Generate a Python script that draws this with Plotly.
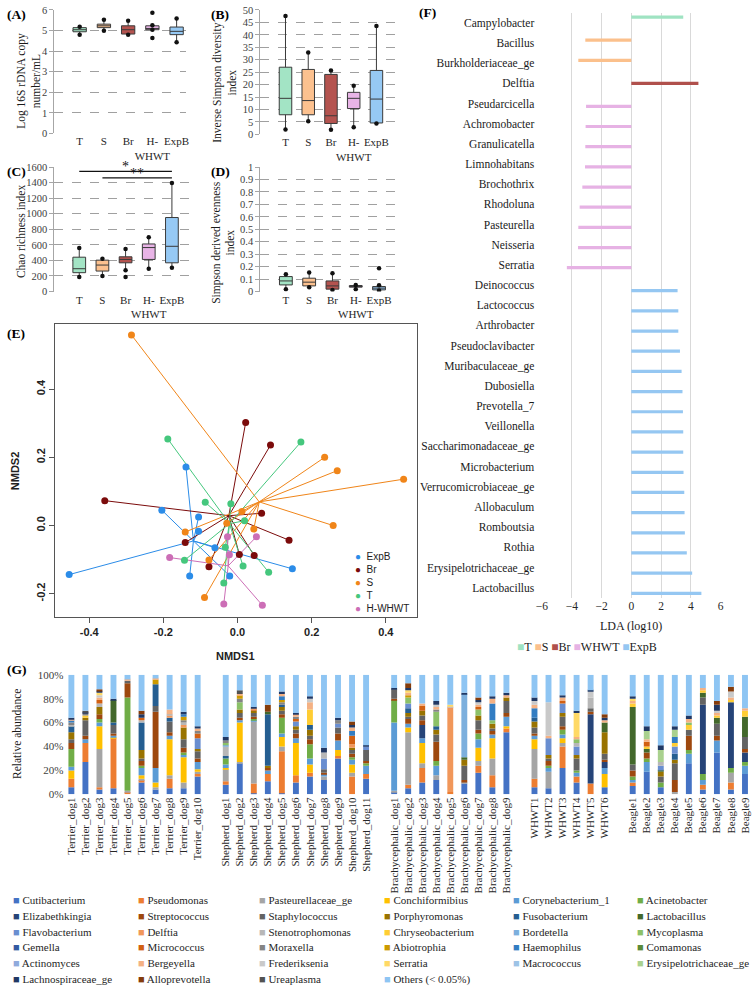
import numpy as np
import plotly.graph_objects as go

W, H = 755, 992
SERIF = "Liberation Serif"
SANS = "Liberation Sans"


def fx(px):
    return px / W


def fy(py):
    return 1 - py / H


# ---------------- Panels A-D : box plots ----------------
box_groups = ["T", "S", "Br", "H-WHWT", "ExpB"]
box_ticktext = ["T", "S", "Br", "H-<br>WHWT", "ExpB"]
group_fill = ["#A3E4C5", "#FCC18F", "#B4534F", "#E8B4E6", "#96C9F4"]

a_q1 = [4.94, 5.14, 4.83, 5.04, 4.80]
a_median = [5.04, 5.23, 5.04, 5.10, 4.96]
a_q3 = [5.14, 5.31, 5.23, 5.23, 5.17]
a_low = [4.80, 4.99, 4.80, 5.04, 4.43]
a_high = [5.18, 5.52, 5.47, 5.26, 5.58]
a_outlier_group = ["H-WHWT", "H-WHWT"]
a_outlier_value = [5.87, 4.64]

b_q1 = [7.9, 7.9, 4.4, 10.4, 4.6]
b_median = [14.5, 13.6, 7.5, 14.5, 14.2]
b_q3 = [27.0, 26.1, 24.1, 16.9, 25.7]
b_low = [2.0, 5.3, 1.9, 2.9, 4.4]
b_high = [47.6, 32.9, 25.7, 19.6, 43.6]
b_outlier_group = []
b_outlier_value = []

c_q1 = [242, 263, 369, 412, 369]
c_median = [293, 340, 412, 565, 581]
c_q3 = [441, 403, 446, 611, 951]
c_low = [187, 199, 272, 293, 306]
c_high = [560, 420, 547, 696, 1396]
c_outlier_group = ["Br"]
c_outlier_value = [187]
c_sig_from = ["T", "S"]
c_sig_to = ["ExpB", "ExpB"]
c_sig_label = ["*", "**"]
c_sig_height = [1545, 1460]

d_q1 = [0.053, 0.045, 0.019, 0.035, 0.013]
d_median = [0.085, 0.075, 0.045, 0.040, 0.027]
d_q3 = [0.120, 0.107, 0.085, 0.048, 0.040]
d_low = [0.019, 0.035, 0.013, 0.019, 0.008]
d_high = [0.139, 0.152, 0.147, 0.053, 0.050]
d_outlier_group = ["ExpB"]
d_outlier_value = [0.187]

# ---------------- Panel E : NMDS ----------------
e_groups = ["ExpB", "Br", "S", "T", "H-WHWT"]
e_colors = ["#2B8CE8", "#7B0B0B", "#F08519", "#45C77D", "#CC6EB6"]
e_expb_x = [-0.139, -0.204, -0.105, -0.105, -0.061, -0.454, -0.129, -0.021, 0.148]
e_expb_y = [0.172, 0.045, 0.025, -0.017, -0.065, -0.144, -0.148, -0.148, -0.127]
e_br_x = [0.022, 0.089, -0.358, 0.065, 0.139, -0.141, 0.005, 0.045, -0.077]
e_br_y = [0.302, 0.236, 0.073, 0.036, -0.043, -0.050, -0.085, -0.088, -0.121]
e_s_x = [-0.286, 0.235, 0.269, 0.448, 0.258, 0.012, -0.029, -0.141, 0.044, -0.077, -0.089]
e_s_y = [0.559, 0.200, 0.161, 0.136, 0.000, 0.041, 0.007, -0.019, -0.010, -0.101, -0.211]
e_t_x = [-0.188, 0.171, -0.087, -0.018, 0.019, -0.033, -0.143, 0.015, 0.084, -0.037]
e_t_y = [0.254, 0.245, 0.068, 0.064, 0.014, -0.064, -0.102, -0.119, -0.137, -0.169]
e_w_x = [-0.027, 0.051, -0.022, -0.183, -0.037, 0.067]
e_w_y = [-0.033, -0.033, -0.086, -0.094, -0.230, -0.234]
e_xticks = [-0.4, -0.2, 0.0, 0.2, 0.4]
e_yticks = [-0.2, 0.0, 0.2, 0.4]

# ---------------- Panel F : LDA ----------------
f_taxa = ["Campylobacter", "Bacillus", "Burkholderiaceae_ge", "Delftia", "Pseudarcicella",
          "Achromobacter", "Granulicatella", "Limnohabitans", "Brochothrix", "Rhodoluna",
          "Pasteurella", "Neisseria", "Serratia", "Deinococcus", "Lactococcus", "Arthrobacter",
          "Pseudoclavibacter", "Muribaculaceae_ge", "Dubosiella", "Prevotella_7", "Veillonella",
          "Saccharimonadaceae_ge", "Microbacterium", "Verrucomicrobiaceae_ge", "Allobaculum",
          "Romboutsia", "Rothia", "Erysipelotrichaceae_ge", "Lactobacillus"]
f_group = ["T", "S", "S", "Br", "WHWT", "WHWT", "WHWT", "WHWT", "WHWT", "WHWT", "WHWT", "WHWT",
           "WHWT", "ExpB", "ExpB", "ExpB", "ExpB", "ExpB", "ExpB", "ExpB", "ExpB", "ExpB", "ExpB",
           "ExpB", "ExpB", "ExpB", "ExpB", "ExpB", "ExpB"]
f_lda = [3.49, -3.09, -3.56, 4.51, -3.04, -3.07, -3.09, -3.11, -3.29, -3.47, -3.56, -3.58, -4.33,
         3.11, 3.16, 3.16, 3.27, 3.38, 3.44, 3.47, 3.49, 3.49, 3.51, 3.56, 3.58, 3.60, 3.73, 4.09, 4.71]
f_legend_groups = ["T", "S", "Br", "WHWT", "ExpB"]
f_colors = ["#9FE3C2", "#FBC08C", "#B0504C", "#E6B2E4", "#95C7F2"]

# ---------------- Panel G : relative abundance ----------------
genus_names = ["Cutibacterium", "Pseudomonas", "Pasteurellaceae_ge", "Conchiformibius",
               "Corynebacterium_1", "Acinetobacter", "Elizabethkingia", "Streptococcus",
               "Staphylococcus", "Porphyromonas", "Fusobacterium", "Lactobacillus",
               "Flavobacterium", "Delftia", "Stenotrophomonas", "Chryseobacterium", "Bordetella",
               "Mycoplasma", "Gemella", "Micrococcus", "Moraxella", "Abiotrophia", "Haemophilus",
               "Comamonas", "Actinomyces", "Bergeyella", "Frederiksenia", "Serratia", "Macrococcus",
               "Erysipelotrichaceae_ge", "Lachnospiraceae_ge", "Alloprevotella", "Ureaplasma",
               "Others (< 0.05%)"]
genus_codes = ["Cut", "Pse", "Pas", "Con", "Cor", "Aci", "Eli", "Str", "Sta", "Por", "Fus", "Lac",
               "Fla", "Del", "Ste", "Chr", "Bor", "Myc", "Gem", "Mic", "Mor", "Abi", "Hae", "Com",
               "Act", "Ber", "Fre", "Ser", "Mac", "Ery", "Lch", "All", "Ure", "Oth"]
genus_colors = ["#4472C4", "#ED7D31", "#A5A5A5", "#FFC000", "#5B9BD5", "#70AD47", "#264478",
                "#9E480E", "#636363", "#997300", "#255E91", "#43682B", "#698ED0", "#F1975A",
                "#B7B7B7", "#FFCD33", "#7CAFDD", "#8CC168", "#335AA1", "#D26012", "#848484",
                "#CC9A00", "#327DC2", "#5A8A39", "#8FAADC", "#F4B183", "#C9C9C9", "#FFD966",
                "#9DC3E6", "#A9D18E", "#203864", "#843C0C", "#525252", "#8EC5F3"]

terrier_names = ["Terrier_dog1", "Terrier_dog2", "Terrier_dog3", "Terrier_dog4", "Terrier_dog5",
                 "Terrier_dog6", "Terrier_dog7", "Terrier_dog8", "Terrier_dog9", "Terrier_dog10"]
shepherd_names = ["Shepherd_dog1", "Shepherd_dog2", "Shepherd_dog3", "Shepherd_dog4",
                  "Shepherd_dog5", "Shepherd_dog6", "Shepherd_dog7", "Shepherd_dog8",
                  "Shepherd_dog9", "Shepherd_dog10", "Shepherd_dog11"]
brachy_names = ["Brachycephalic_dog1", "Brachycephalic_dog2", "Brachycephalic_dog3",
                "Brachycephalic_dog4", "Brachycephalic_dog5", "Brachycephalic_dog6",
                "Brachycephalic_dog7", "Brachycephalic_dog8", "Brachycephalic_dog9"]
whwt_names = ["WHWT1", "WHWT2", "WHWT3", "WHWT4", "WHWT5", "WHWT6"]
beagle_names = ["Beagle1", "Beagle2", "Beagle3", "Beagle4", "Beagle5", "Beagle6", "Beagle7",
                "Beagle8", "Beagle9"]

terrier_abund = [
    dict(Cut=6, Pse=7, Con=7, Cor=3, Aci=15, Str=5, Sta=3, Por=6, Fus=5, Hae=2, Mor=2, Ber=1, Lch=1, Ste=1, Oth=36),
    dict(Cut=27, Pse=16, Str=3, Sta=13, Cor=3, Chr=2, Por=2, Lch=1, Ure=1, Mor=2, Oth=30),
    dict(Cut=4, Pse=2, Pas=32, Con=19, Ste=3, Por=6, Str=4, Cor=3, Aci=3, Ber=2, Mic=3, Ser=2, Fre=2, Lch=1, All=2, Oth=12),
    dict(Cut=5, Pse=42, Cor=1, Con=1, Str=2, Fus=2, Sta=7, Lac=19, Lch=1, Oth=20),
    dict(Pse=2, Ber=1, Pas=1, Aci=78, Str=12, Sta=2, Oth=4),
    dict(Cut=10, Pse=2, Pas=1, Con=3, Cor=6, Ste=2, Por=7, Fus=23, Aci=2, Mic=2, Str=4, Lch=3, Sta=2, All=3, Oth=30),
    dict(Cut=4, Pas=2, Con=4, Cor=12, Ber=1, Str=47, Sta=5, Fus=18, Abi=4, Oth=3),
    dict(Cut=5, Pse=8, Pas=3, Con=30, Cor=3, Fus=3, Str=3, Sta=9, Ber=4, Del=2, Ste=1, Oth=29),
    dict(Cut=5, Pas=5, Con=21, Aci=2, Por=10, Str=4, Sta=7, Abi=3, Cor=2, Mor=2, Del=2, Hae=2, Lch=2, Ste=2, Oth=31),
    dict(Cut=15, Pse=2, Cor=6, Sta=6, Str=3, Fla=9, Mic=4, Con=2, Ber=2, Por=2, Lch=2, Mor=2, Pas=2, Oth=43),
]
shepherd_abund = [
    dict(Cut=8, Pse=3, Con=1, Lch=3, Cor=3, Fus=2, Pas=10, Ste=8, Aci=5, Myc=2, Mor=2, Bor=1, Oth=52),
    dict(Cut=26, Pas=1, Con=33, Str=2, Por=3, Sta=4, Myc=6, Abi=3, Mor=3, Ber=1, Cor=2, Ure=3, Oth=13),
    dict(Cut=1, Pse=8, Pas=52, Sta=3, Str=2, Por=2, Aci=1, Cor=1, Mic=1, Ber=1, Lch=1, Oth=27),
    dict(Cut=11, Pse=6, Cor=3, Por=2, Lac=2, Fus=43, All=6, Str=2, Oth=25),
    dict(Cut=1, Pse=35, Pas=4, Con=8, Aci=13, Str=3, Cor=3, Fus=2, Por=3, Sta=3, Mor=2, Abi=2, Ber=2, Lch=2, Hae=3, Oth=14),
    dict(Cut=10, Pse=6, Cor=4, Con=27, Fla=4, Str=4, Sta=3, Por=3, Ber=2, Mic=2, Lch=1, Mor=2, Oth=32),
    dict(Cut=15, Pse=3, Con=7, Cor=5, Fus=4, Aci=12, Str=4, Por=5, Sta=3, Fre=3, Chr=13, Ber=6, Lch=2, Oth=18),
    dict(Cut=12, Fla=9, Pas=3, Cor=2, Sta=3, Ste=5, Lch=4, Str=1, Oth=61),
    dict(Cut=30, Pse=2, Cor=8, Fla=3, Str=6, Sta=5, Con=5, Mor=3, Lch=2, Oth=36),
    dict(Pse=15, Pas=3, Con=7, Cor=4, Lch=2, Str=3, Aci=2, Hae=4, All=3, Mic=7, Sta=3, Ber=3, Por=2, Del=3, Oth=39),
    dict(Cut=13, Pse=4, Cor=7, Fla=3, Sta=9, Str=2, Aci=2, Lch=1, Oth=59),
]
brachy_abund = [
    dict(Cut=2, Pas=1, Cor=57, Aci=19, Sta=8, Str=1, Lch=1, Oth=11),
    dict(Cut=5, Pse=3, Pas=44, Con=4, Str=4, All=4, Fla=4, Myc=5, Fus=4, Cor=3, Por=3, Abi=2, Ber=2, Lch=2, Sta=2, Ser=2, Oth=7),
    dict(Cut=10, Pse=12, Pas=4, Con=17, Cor=4, Eli=11, Str=4, Por=4, Sta=4, Mic=4, Ber=2, Oth=24),
    dict(Cut=12, Pas=4, Cor=8, Aci=4, Str=16, Lch=3, Por=4, Myc=12, Ber=2, Fus=3, Sta=6, Mor=2, Fre=2, Oth=22),
    dict(Pse=2, Del=71, Fre=1, Ser=1, Oth=25),
    dict(Cut=9, Pas=1, Sta=12, Por=5, Lac=2, Bor=53, Str=2, Lch=1, Oth=15),
    dict(Cut=18, Pse=6, Pas=4, Con=11, Cor=7, Aci=5, Por=4, Sta=8, Myc=5, Str=3, Fre=2, Ber=2, Lch=2, Mic=2, All=2, Oth=19),
    dict(Cut=6, Pse=10, Pas=14, Con=17, Por=4, Str=3, Hae=14, Cor=3, Myc=3, Ber=4, Sta=2, Lch=2, Oth=18),
    dict(Cut=52, Pse=3, Con=2, Cor=8, Str=3, Sta=10, Por=3, Lch=2, Ber=2, Oth=15),
]
whwt_abund = [
    dict(Cut=6, Pse=7, Pas=25, Con=8, Cor=3, Lch=3, Por=5, Sta=5, Fus=3, Hae=8, Ber=3, Fre=3, Str=2, Oth=19),
    dict(Cut=5, Pas=14, Str=4, Por=3, Fla=14, Cor=3, Aci=2, Fre=28, Ber=2, Sta=2, Oth=23),
    dict(Cut=22, Pse=18, Pas=3, Con=4, Cor=3, Aci=4, Str=3, Sta=8, Fla=8, Ber=3, Por=3, Mic=2, Lch=2, Oth=17),
    dict(Cut=10, Pse=5, Fla=7, Lch=2, Sta=10, Ste=3, Myc=3, Por=3, Cor=3, Ser=20, Ber=2, Aci=2, Oth=30),
    dict(Pse=9, Eli=58, Ste=9, Fre=5, Sta=3, Str=2, Lch=1, Oth=13),
    dict(Cut=6, Con=11, Cor=5, Eli=5, All=3, Sta=5, Por=18, Lac=8, Str=2, Lch=2, Ber=2, Oth=33),
]
beagle_abund = [
    dict(Cut=7, Pse=3, Cor=2, Aci=3, Lch=2, Str=5, Sta=5, Lac=48, Chr=3, Ser=2, Ber=2, Oth=18),
    dict(Cut=19, Cor=8, Aci=3, Str=5, Mic=4, Lch=4, Lac=3, Chr=2, Ery=7, Ber=2, Oth=43),
    dict(Cut=6, Aci=4, Por=4, Sta=5, Lch=4, Fla=4, Ste=3, Ery=10, Lac=1, Oth=59),
    dict(Pas=2, Str=10, Sta=14, Por=3, Fus=5, Fla=6, Hae=5, Chr=3, Ery=6, Lch=3, Oth=43),
    dict(Cut=26, Cor=8, Aci=3, Str=12, Sta=5, Ber=3, Chr=4, Lch=3, Myc=2, Oth=34),
    dict(Cut=4, Pse=4, Cor=4, Aci=5, Eli=58, Lac=4, Sta=6, Chr=2, Ber=2, Oth=11),
    dict(Cut=35, Cor=10, Lch=5, Str=4, Sta=10, Lac=5, All=3, Ber=2, Chr=2, Fre=2, Oth=22),
    dict(Cut=4, Pse=6, Pas=8, Aci=4, Eli=55, All=4, Fre=5, Chr=2, Ber=2, Oth=10),
    dict(Cut=17, Cor=7, Aci=3, Eli=8, Sta=10, Lac=17, Chr=5, Str=3, Ber=2, Oth=28),
]

# ======================================================================
fig = go.Figure()

box_panels = [
    ("x", "y", a_q1, a_median, a_q3, a_low, a_high, a_outlier_group, a_outlier_value),
    ("x2", "y2", b_q1, b_median, b_q3, b_low, b_high, b_outlier_group, b_outlier_value),
    ("x3", "y3", c_q1, c_median, c_q3, c_low, c_high, c_outlier_group, c_outlier_value),
    ("x4", "y4", d_q1, d_median, d_q3, d_low, d_high, d_outlier_group, d_outlier_value),
]
for xa, ya, q1, med, q3, lo, hi, og, ov in box_panels:
    for i, g in enumerate(box_groups):
        fig.add_trace(go.Box(
            x=[g], q1=[q1[i]], median=[med[i]], q3=[q3[i]], lowerfence=[lo[i]], upperfence=[hi[i]],
            fillcolor=group_fill[i], line=dict(color="#3a3a3a", width=1), whiskerwidth=0,
            width=0.55, boxpoints=False, xaxis=xa, yaxis=ya, showlegend=False, hoverinfo="skip"))
    fig.add_trace(go.Scatter(
        x=box_groups + box_groups + og, y=lo + hi + ov, mode="markers",
        marker=dict(color="#111111", size=4.5), xaxis=xa, yaxis=ya, showlegend=False,
        hoverinfo="skip"))

# significance bars on C
for g0, g1, lab, h in zip(c_sig_from, c_sig_to, c_sig_label, c_sig_height):
    fig.add_trace(go.Scatter(x=[g0, g1], y=[h, h], mode="lines", line=dict(color="#111", width=1.2),
                             xaxis="x3", yaxis="y3", showlegend=False, hoverinfo="skip"))

# E: spider plot
e_xs = [e_expb_x, e_br_x, e_s_x, e_t_x, e_w_x]
e_ys = [e_expb_y, e_br_y, e_s_y, e_t_y, e_w_y]
for xs, ys, col in zip(e_xs, e_ys, e_colors):
    cx, cy = float(np.mean(xs)), float(np.mean(ys))
    lx, ly = [], []
    for px_, py_ in zip(xs, ys):
        lx += [cx, px_, None]
        ly += [cy, py_, None]
    fig.add_trace(go.Scatter(x=lx, y=ly, mode="lines", line=dict(color=col, width=1),
                             xaxis="x5", yaxis="y5", showlegend=False, hoverinfo="skip"))
for xs, ys, col in zip(e_xs, e_ys, e_colors):
    fig.add_trace(go.Scatter(x=xs, y=ys, mode="markers", marker=dict(color=col, size=7),
                             xaxis="x5", yaxis="y5", showlegend=False, hoverinfo="skip"))

# F: LDA bars (one trace per group, slotted like a clustered bar chart)
f_offsets = [-0.36, -0.22, -0.08, 0.06, 0.20]
for g, col, off in zip(f_legend_groups, f_colors, f_offsets):
    xs = [v if grp == g else None for v, grp in zip(f_lda, f_group)]
    fig.add_trace(go.Bar(y=f_taxa, x=xs, orientation="h", marker=dict(color=col, line=dict(width=0)),
                         width=0.16, offset=off, xaxis="x6", yaxis="y6", showlegend=False,
                         hoverinfo="skip"))

# G: stacked bars
g_cats = terrier_names + [" "] + shepherd_names + ["  "] + brachy_names + ["   "] + whwt_names + ["    "] + beagle_names
g_records = terrier_abund + [None] + shepherd_abund + [None] + brachy_abund + [None] + whwt_abund + [None] + beagle_abund
for code, name, col in zip(genus_codes, genus_names, genus_colors):
    ys = [None if r is None else r.get(code, 0) for r in g_records]
    fig.add_trace(go.Bar(x=g_cats, y=ys, name=name, marker=dict(color=col, line=dict(width=0)),
                         width=0.42, xaxis="x7", yaxis="y7", showlegend=False, hoverinfo="skip"))

# ---------------- axes ----------------
tick_serif = dict(family=SERIF, size=10.5, color="#404040")
cat_serif = dict(family=SERIF, size=11, color="#262626")


def box_axes(xdom, ydom, xr, yr, dtick, anchor_x, anchor_y):
    xa = dict(domain=[fx(xdom[0]), fx(xdom[1])], range=xr, type="category",
              categoryorder="array", categoryarray=box_groups, tickvals=box_groups,
              ticktext=box_ticktext, tickangle=0, showgrid=False, zeroline=False, showline=False,
              ticks="", tickfont=cat_serif, anchor=anchor_y)
    ya = dict(domain=[fy(ydom[1]), fy(ydom[0])], range=yr, dtick=dtick, tick0=0, showgrid=True,
              griddash="dash", gridcolor="#a0a0a0", gridwidth=1, zeroline=False, showline=True,
              linecolor="#a6a6a6", ticks="outside", ticklen=4, tickcolor="#a6a6a6",
              tickfont=tick_serif, anchor=anchor_x)
    return xa, ya


xa1, ya1 = box_axes((50, 183), (4, 129), [-1.04, 4.39], [0, 6], 1, "x", "y")
xa2, ya2 = box_axes((258, 400), (4, 130), [-1.11, 5.07], [0, 50], 5, "x2", "y2")
xa3, ya3 = box_axes((50, 190), (163, 289), [-1.07, 4.91], [0, 1600], 200, "x3", "y3")
xa4, ya4 = box_axes((258, 403), (163, 289), [-1.1, 5.06], [0, 1], 0.1, "x4", "y4")

e_tick = dict(family=SANS, size=11, color="#222", weight="bold")
xa5 = dict(domain=[fx(51), fx(416)], range=[-0.491, 0.483], tickvals=e_xticks,
           ticktext=[f"{v:.1f}" for v in e_xticks],
           showline=True, mirror=True, linecolor="#555", linewidth=1, ticks="outside", ticklen=5,
           tickcolor="#555", showgrid=False, zeroline=False, tickfont=e_tick, anchor="y5")
ya5 = dict(domain=[fy(618), fy(322)], range=[-0.267, 0.591], tickvals=e_yticks,
           ticktext=[f"{v:.1f}" for v in e_yticks],
           tickangle=-90, showline=True, mirror=True, linecolor="#555", linewidth=1, ticks="outside",
           ticklen=5, tickcolor="#555", showgrid=False, zeroline=False, tickfont=e_tick, anchor="x5")

xa6 = dict(domain=[fx(542), fx(724)], range=[-6.05, 6.05], dtick=2, tick0=0, showgrid=True,
           gridcolor="#d9d9d9", gridwidth=1, zeroline=True, zerolinecolor="#d9d9d9",
           zerolinewidth=1, showline=False, ticks="",
           tickfont=dict(family=SERIF, size=11.5, color="#262626"), anchor="y6")
ya6 = dict(domain=[fy(599), fy(6.8)], type="category", categoryorder="array",
           categoryarray=f_taxa, range=[28.5, -0.5], showgrid=False, zeroline=False,
           showline=False, ticks="", ticklabelstandoff=6,
           tickfont=dict(family=SERIF, size=11.5, color="#1a1a1a"), anchor="x6")

xa7 = dict(domain=[fx(60), 1.0], type="category", categoryorder="array", categoryarray=g_cats,
           range=[-0.5, len(g_cats) - 0.5], tickangle=-90, showgrid=False, zeroline=False,
           showline=False, ticks="", tickfont=dict(family=SERIF, size=11, color="#262626"),
           anchor="y7")
ya7 = dict(domain=[fy(798), fy(677)], range=[0, 100], dtick=20, tick0=0, ticksuffix="%",
           showgrid=False, zeroline=False, showline=False, ticks="",
           tickfont=dict(family=SERIF, size=11, color="#404040"), anchor="x7")

# ---------------- annotations ----------------
ann = []


def text(x, y, s, size=12, family=SERIF, xanchor="center", yanchor="middle", angle=0,
         color="#1a1a1a", weight="normal", align="center"):
    ann.append(dict(x=fx(x), y=fy(y), xref="paper", yref="paper", text=s, showarrow=False,
                    xanchor=xanchor, yanchor=yanchor, textangle=angle, align=align,
                    font=dict(family=family, size=size, color=color, weight=weight)))


for lab, x, y in [("(A)", 0, 9), ("(B)", 206, 9), ("(C)", 0, 168), ("(D)", 206, 168),
                  ("(E)", 0, 332), ("(F)", 416, 7), ("(G)", 0, 672)]:
    text(x, y, lab, size=13.5, xanchor="left", color="#000", weight="bold")

text(23, 76, "Log 16S rDNA copy<br>number/mL", size=11.5, angle=-90)
text(221, 78, "Inverse Simpson diversity<br>index", size=11.5, angle=-90)
text(16, 228, "Chao richness index", size=11.5, angle=-90)
text(220, 239, "Simpson derived evenness<br>index", size=11.5, angle=-90)
text(12, 737, "Relative abundance", size=11.5, angle=-90)
text(10, 470, "NMDS2", size=11, family=SANS, angle=-90, weight="bold", color="#222")
text(233, 658, "NMDS1", size=11, family=SANS, weight="bold", color="#222")
text(633, 628, "LDA (log10)", size=12)

# significance labels on C
for g0, g1, lab, h in zip(c_sig_from, c_sig_to, c_sig_label, c_sig_height):
    mid = (box_groups.index(g0) + box_groups.index(g1)) / 2
    ann.append(dict(x=mid, y=h, xref="x3", yref="y3", text=lab, showarrow=False, yanchor="bottom",
                    yshift=-5, font=dict(family=SERIF, size=14, color="#111")))

# E legend (one multi-line text block)
e_leg = "<br>".join(f"<span style='color:{c}'>●</span>  {g}" for g, c in zip(e_groups, e_colors))
text(352, 584, e_leg, size=10, family=SANS, xanchor="left", color="#222", align="left")

# F legend
f_leg = " ".join(f"<span style='color:{c}'>■</span>{g}" for g, c in zip(f_legend_groups, f_colors))
text(588, 649, f_leg, size=12)

# G legend
g_cols = [6, 132, 255, 381, 511, 637]
g_rows = [905, 921, 937, 953, 969, 985]
for k, (name, col) in enumerate(zip(genus_names, genus_colors)):
    r, c = divmod(k, 6)
    text(g_cols[c], g_rows[r], f"<span style='color:{col}'>■</span> {name}", size=11,
         xanchor="left", color="#262626")

fig.update_layout(
    width=W, height=H, margin=dict(l=0, r=0, t=0, b=0),
    paper_bgcolor="white", plot_bgcolor="rgba(0,0,0,0)",
    showlegend=False, barmode="relative", boxmode="overlay",
    xaxis=xa1, yaxis=ya1, xaxis2=xa2, yaxis2=ya2, xaxis3=xa3, yaxis3=ya3, xaxis4=xa4, yaxis4=ya4,
    xaxis5=xa5, yaxis5=ya5, xaxis6=xa6, yaxis6=ya6, xaxis7=xa7, yaxis7=ya7,
    annotations=ann,
)

fig.write_html("out.html", config={"displayModeBar": False},
               post_script="document.body.style.margin='0';")
